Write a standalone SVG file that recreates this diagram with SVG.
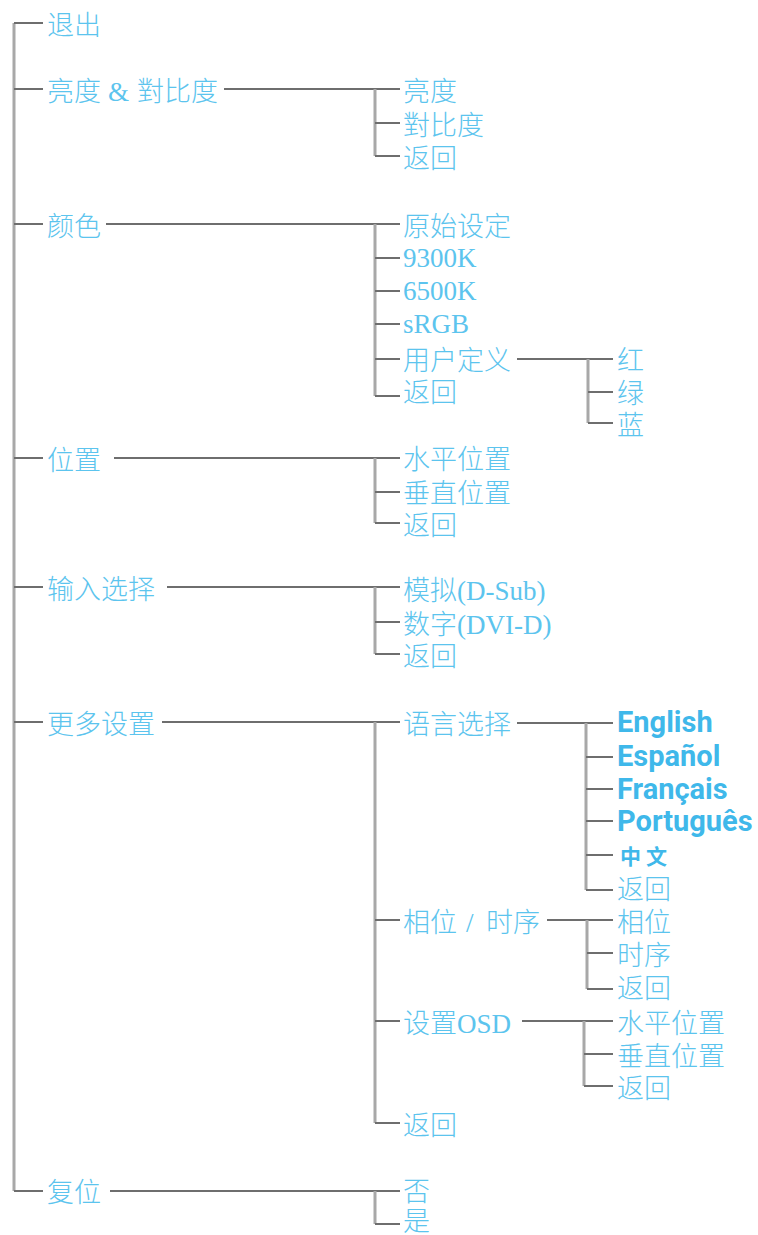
<svg xmlns="http://www.w3.org/2000/svg" width="758" height="1235" viewBox="0 0 758 1235">
<style>
.bg{fill:#ffffff}
.v{stroke:#a8a8a8;stroke-width:3;fill:none}
.h{stroke:#6e6e6e;stroke-width:2;fill:none}
.t{font-family:"Liberation Serif","Noto Sans CJK SC",serif;font-size:27px;fill:#5cc4ee;font-weight:300}
.l{font-family:Roboto,"Liberation Sans",sans-serif;font-size:29px;fill:#3fb8ea;font-weight:bold}
.z{font-family:"Noto Sans CJK SC",sans-serif;font-size:21px;fill:#3fb8ea;font-weight:bold}
</style>
<rect class="bg" x="0" y="0" width="758" height="1235"/>
<g id="connectors">
  <path class="v" d="M14,23 V1191"/>
  <path class="h" d="M14,23 H43 M14,89 H43 M14,224 H43 M14,458 H43 M14,587 H43 M14,722 H43 M14,1191 H43"/>
  <path class="h" d="M224,89 H400 M106,224 H400 M114,458 H400 M167,587 H400 M162,722 H400 M110,1191 H400"/>
  <path class="v" d="M375,89 V156 M375,224 V396 M375,458 V523 M375,587 V654 M375,722 V1123 M375,1191 V1224"/>
  <path class="h" d="M375,123 H400 M375,156 H400 M375,258 H400 M375,291 H400 M375,324 H400 M375,359 H400 M375,396 H400 M375,492 H400 M375,523 H400 M375,622 H400 M375,654 H400 M375,920 H400 M375,1021 H400 M375,1123 H400 M375,1224 H400"/>
  <path class="h" d="M517,359 H613 M517,723 H613 M547,920 H613 M522,1021 H613"/>
  <path class="v" d="M588,359 V423 M586,723 V890 M587,920 V989 M584,1021 V1086"/>
  <path class="h" d="M588,392 H613 M588,423 H613 M586,757 H613 M586,789 H613 M586,821 H613 M586,855 H613 M586,890 H613 M587,953 H613 M587,989 H613 M584,1054 H613 M584,1086 H613"/>
</g>
<g id="n-exit"><text class="t" x="47" y="35">退出</text></g>
<g id="n-brightness"><text class="t" x="47" y="101">亮度<tspan x="108">&amp;</tspan><tspan x="137">對比度</tspan></text></g>
<g id="n-color"><text class="t" x="47" y="236">颜色</text></g>
<g id="n-position"><text class="t" x="47" y="470">位置</text></g>
<g id="n-input"><text class="t" x="47" y="599">输入选择</text></g>
<g id="n-more"><text class="t" x="47" y="734">更多设置</text></g>
<g id="n-reset"><text class="t" x="47" y="1202">复位</text></g>

<g id="n-b1"><text class="t" x="403" y="101">亮度</text></g>
<g id="n-b2"><text class="t" x="403" y="135">對比度</text></g>
<g id="n-b3"><text class="t" x="403" y="168">返回</text></g>

<g id="n-c1"><text class="t" x="403" y="236">原始设定</text></g>
<g id="n-c2"><text class="t" x="403" y="267">9300K</text></g>
<g id="n-c3"><text class="t" x="403" y="300">6500K</text></g>
<g id="n-c4"><text class="t" x="403" y="333">sRGB</text></g>
<g id="n-c5"><text class="t" x="403" y="370">用户定义</text></g>
<g id="n-c6"><text class="t" x="403" y="402">返回</text></g>
<g id="n-u1"><text class="t" x="617" y="370">红</text></g>
<g id="n-u2"><text class="t" x="617" y="403">绿</text></g>
<g id="n-u3"><text class="t" x="617" y="435">蓝</text></g>

<g id="n-p1"><text class="t" x="403" y="469">水平位置</text></g>
<g id="n-p2"><text class="t" x="403" y="503">垂直位置</text></g>
<g id="n-p3"><text class="t" x="403" y="535">返回</text></g>

<g id="n-i1"><text class="t" x="403" y="600">模拟(D-Sub)</text></g>
<g id="n-i2"><text class="t" x="403" y="634">数字(DVI-D)</text></g>
<g id="n-i3"><text class="t" x="403" y="666">返回</text></g>

<g id="n-m1"><text class="t" x="403" y="734">语言选择</text></g>
<g id="n-l1"><text class="l" x="617" y="732">English</text></g>
<g id="n-l2"><text class="l" x="617" y="766">Español</text></g>
<g id="n-l3"><text class="l" x="617" y="799">Français</text></g>
<g id="n-l4"><text class="l" x="617" y="831">Português</text></g>
<g id="n-l5"><text class="z" x="620" y="864">中<tspan x="646">文</tspan></text></g>
<g id="n-l6"><text class="t" x="617" y="899">返回</text></g>

<g id="n-m2"><text class="t" x="403" y="932">相位<tspan x="466">/</tspan><tspan x="486">时序</tspan></text></g>
<g id="n-ph1"><text class="t" x="617" y="932">相位</text></g>
<g id="n-ph2"><text class="t" x="617" y="965">时序</text></g>
<g id="n-ph3"><text class="t" x="617" y="998">返回</text></g>

<g id="n-m3"><text class="t" x="403" y="1033">设置OSD</text></g>
<g id="n-o1"><text class="t" x="617" y="1033">水平位置</text></g>
<g id="n-o2"><text class="t" x="617" y="1066">垂直位置</text></g>
<g id="n-o3"><text class="t" x="617" y="1098">返回</text></g>

<g id="n-m4"><text class="t" x="403" y="1135">返回</text></g>

<g id="n-r1"><text class="t" x="403" y="1201">否</text></g>
<g id="n-r2"><text class="t" x="403" y="1231">是</text></g>
</svg>
